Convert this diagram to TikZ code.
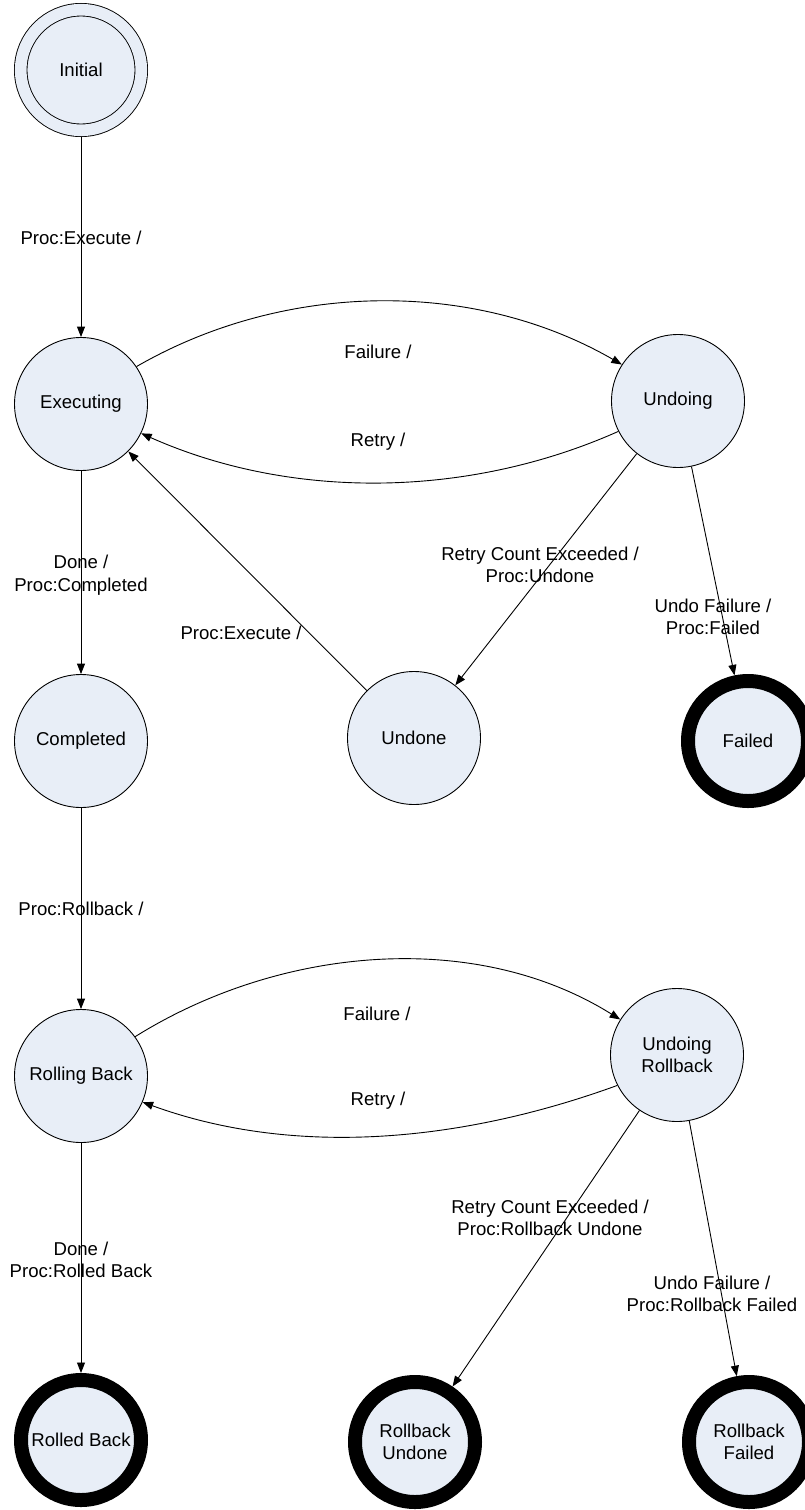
\documentclass[tikz,border=0pt]{standalone}
\usepackage{fontspec}
\setmainfont{Liberation Sans}
\usetikzlibrary{arrows.meta}
\definecolor{statefill}{HTML}{E8EEF7}
\begin{document}
\begin{tikzpicture}[x=1pt,y=1pt,
  every node/.style={font=\fontsize{18.6}{22.5}\selectfont, inner sep=0pt, align=center},
  state/.style={circle, draw, line width=0.9pt, fill=statefill, minimum size=133pt},
  finalstate/.style={circle, draw, line width=14pt, fill=statefill, minimum size=120pt, outer sep=7pt},
  initstate/.style={circle, draw, line width=0.9pt, double=statefill, double distance=11.65pt,
    fill=statefill, minimum size=120.55pt, outer sep=6.73pt},
  trans/.style={line width=0.9pt, -{Triangle[length=10.5pt,width=8pt]}},
  lbl/.style={}
]
\useasboundingbox (0,0) rectangle (804,-1510);

% states
\node[initstate]  (init)      at (81,-70)    {Initial};
\node[state]      (exec)      at (81,-404)   {Executing};
\node[state]      (undoing)   at (678,-401)  {Undoing};
\node[state]      (completed) at (81,-741)   {Completed};
\node[state]      (undone)    at (414,-738)  {Undone};
\node[finalstate] (failed)    at (748,-741)  {Failed};
\node[state]      (rolling)   at (81,-1076)  {Rolling Back};
\node[state]      (undoingrb) at (677,-1055) {Undoing\\Rollback};
\node[finalstate] (rolled)    at (81,-1440)  {Rolled Back};
\node[finalstate] (rbundone)  at (415,-1442) {Rollback\\Undone};
\node[finalstate] (rbfailed)  at (749,-1442) {Rollback\\Failed};

% transitions
\draw[trans] (init) -- (exec);
\draw[trans] (exec.34) to[out=30,in=150,looseness=0.9] (undoing.147);
\draw[trans] (undoing.207) to[out=204,in=-24,looseness=0.88] (exec.-26);
\draw[trans] (exec) -- (completed);
\draw[trans] (undoing) -- (undone);
\draw[trans] (undoing) -- (failed);
\draw[trans] (undone) -- (exec);
\draw[trans] (completed) -- (rolling);
\draw[trans] (rolling.36) to[out=32,in=148,looseness=0.9] (undoingrb.148);
\draw[trans] (undoingrb.207) to[out=200,in=-20,looseness=0.88] (rolling.-23);
\draw[trans] (rolling) -- (rolled);
\draw[trans] (undoingrb) -- (rbundone);
\draw[trans] (undoingrb) -- (rbfailed);

% transition labels
\node[lbl] (l1)  at (81,-238)   {Proc:Execute /};
\node[lbl] (l2)  at (378,-352)  {Failure /};
\node[lbl] (l3)  at (378,-442)  {Retry /};
\node[lbl] (l4)  at (81,-575)   {Done /\\Proc:Completed};
\node[lbl] (l5)  at (241,-633)  {Proc:Execute /};
\node[lbl] (l6)  at (540,-565)  {Retry Count Exceeded /\\Proc:Undone};
\node[lbl] (l7)  at (713,-617)  {Undo Failure /\\Proc:Failed};
\node[lbl] (l8)  at (81,-909)   {Proc:Rollback /};
\node[lbl] (l9)  at (377,-1014) {Failure /};
\node[lbl] (l10) at (378,-1101) {Retry /};
\node[lbl] (l11) at (81,-1260)  {Done /\\Proc:Rolled Back};
\node[lbl] (l12) at (550,-1218) {Retry Count Exceeded /\\Proc:Rollback Undone};
\node[lbl] (l13) at (712,-1294) {Undo Failure /\\Proc:Rollback Failed};
\end{tikzpicture}
\end{document}
